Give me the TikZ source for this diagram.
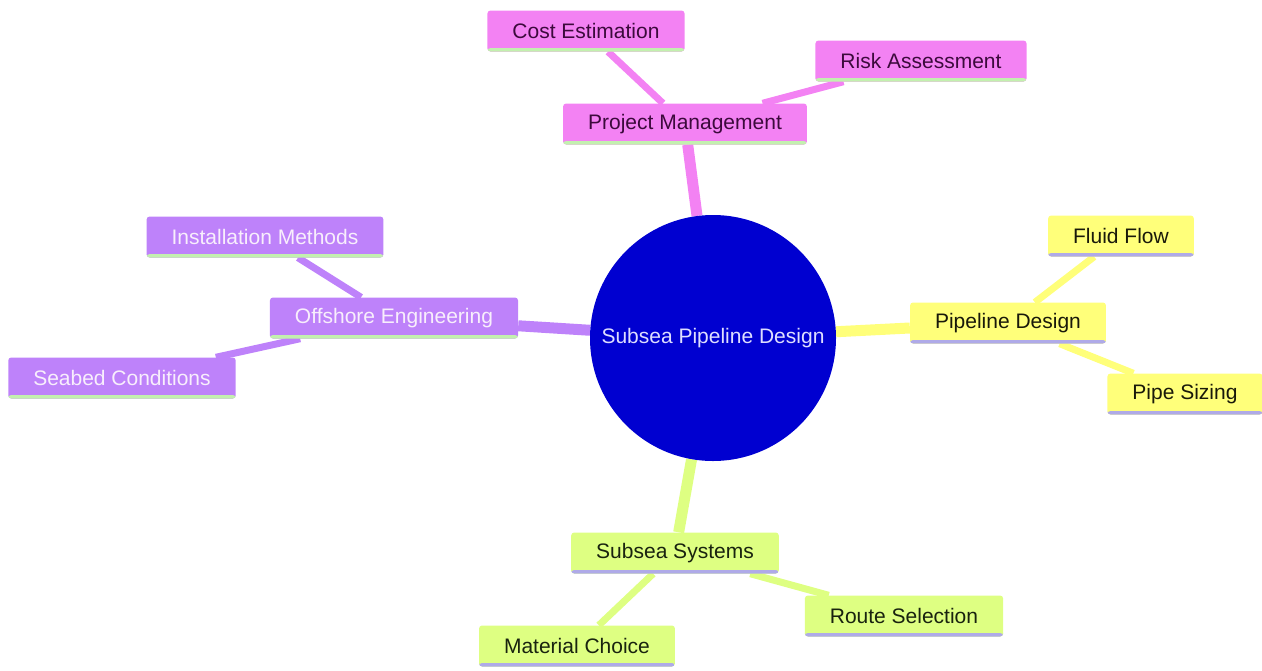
\documentclass[tikz,border=0pt]{standalone}
\usepackage{fontspec}
\setmainfont{Liberation Sans}
\usetikzlibrary{backgrounds}

\definecolor{hubblue}{RGB}{0,0,208}
\definecolor{pinkfill}{RGB}{243,130,243}
\definecolor{purplefill}{RGB}{190,130,250}
\definecolor{yellowfill}{RGB}{255,255,122}
\definecolor{greenfill}{RGB}{222,255,130}
\definecolor{greenline}{RGB}{195,240,175}
\definecolor{lavline}{RGB}{175,170,232}

\tikzset{
  topic/.style={rectangle, rounded corners=3pt, minimum height=41pt, inner xsep=25pt,
    font=\fontsize{21}{25}\selectfont},
  stripe/.style={path picture={\fill[#1] ([yshift=3.5pt]path picture bounding box.south west)
    rectangle (path picture bounding box.south east);}},
  pinkbox/.style={topic, fill=pinkfill, text={rgb,255:red,60;green,10;blue,60}, stripe=greenline},
  purplebox/.style={topic, fill=purplefill, text={rgb,255:red,248;green,238;blue,252}, stripe=greenline},
  yellowbox/.style={topic, fill=yellowfill, text={rgb,255:red,25;green,25;blue,10}, stripe=lavline},
  greenbox/.style={topic, fill=greenfill, text={rgb,255:red,25;green,35;blue,15}, stripe=lavline},
  trunk/.style={line width=11pt},
  twig/.style={line width=7pt}
}

\begin{document}
\begin{tikzpicture}[x=1pt, y=-1pt]
        \useasboundingbox (0,0) rectangle (1262,670);

        \node[circle, fill=hubblue, minimum size=246pt, text={rgb,255:red,222;green,222;blue,255},
              font=\fontsize{21}{25}\selectfont] (hub) at (713,338) {Subsea Pipeline Design};

        \node[pinkbox] (project) at (685,124) {Project Management};
        \node[pinkbox] (cost) at (586,31) {Cost Estimation};
        \node[pinkbox] (risk) at (921,61) {Risk Assessment};

        \node[purplebox] (offshore) at (394,318) {Offshore Engineering};
        \node[purplebox] (install) at (265,237) {Installation Methods};
        \node[purplebox] (seabed) at (122,378) {Seabed Conditions};

        \node[yellowbox] (pipeline) at (1008,323) {Pipeline Design};
        \node[yellowbox] (fluid) at (1121,236) {Fluid Flow};
        \node[yellowbox] (sizing) at (1185,394) {Pipe Sizing};

        \node[greenbox] (subsea) at (675,553) {Subsea Systems};
        \node[greenbox] (route) at (904,616) {Route Selection};
        \node[greenbox] (material) at (577,646) {Material Choice};

        \begin{scope}[on background layer]
        \draw[trunk, pinkfill] (hub) -- (project);
        \draw[twig, pinkfill] (project) -- (cost);
        \draw[twig, pinkfill] (project) -- (risk);
        \draw[trunk, purplefill] (hub) -- (offshore);
        \draw[twig, purplefill] (offshore) -- (install);
        \draw[twig, purplefill] (offshore) -- (seabed);
        \draw[trunk, yellowfill] (hub) -- (pipeline);
        \draw[twig, yellowfill] (pipeline) -- (fluid);
        \draw[twig, yellowfill] (pipeline) -- (sizing);
        \draw[trunk, greenfill] (hub) -- (subsea);
        \draw[twig, greenfill] (subsea) -- (route);
        \draw[twig, greenfill] (subsea) -- (material);
        \end{scope}
    \end{tikzpicture}
\end{document}
